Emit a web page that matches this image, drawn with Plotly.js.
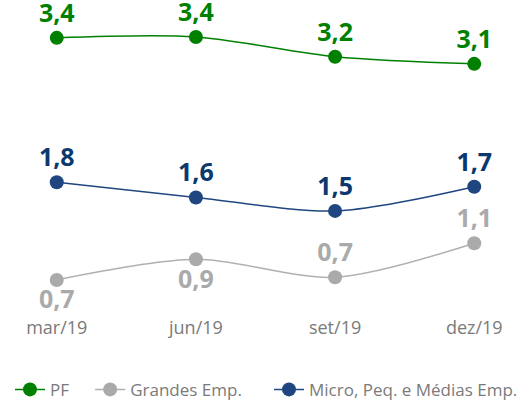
<!DOCTYPE html>
<html>
<head>
<meta charset="utf-8">
<script src="https://cdn.plot.ly/plotly-3.0.1.min.js"></script>
<style>html,body{margin:0;padding:0;background:#fff;}#chart{width:523px;height:404px;}</style>
</head>
<body>
<div id="chart"></div>
<script>
var categories = ["mar/19", "jun/19", "set/19", "dez/19"];
var pfValues = [3.40, 3.41, 3.19, 3.11];
var pfLabels = ["3,4", "3,4", "3,2", "3,1"];
var geValues = [0.70, 0.93, 0.73, 1.11];
var geLabels = ["0,7", "0,9", "0,7", "1,1"];
var mpmeValues = [1.79, 1.62, 1.47, 1.74];
var mpmeLabels = ["1,8", "1,6", "1,5", "1,7"];
var seriesNames = ["PF", "Grandes Emp.", "Micro, Peq. e Médias Emp."];

var green = "#008000", gray = "#aaaaaa", navy = "#1f4680", navyText = "#0b386e";
var font = "Open Sans, Noto Sans, sans-serif";

function trace(name, vals, labels, lineColor, markerColor, textColor, pos, legendId) {
  return {
    type: "scatter", mode: "lines+markers+text",
    x: categories, y: vals, name: name, legend: legendId,
    text: labels, textposition: pos,
    textfont: {family: font, size: 25, color: textColor, weight: 700},
    line: {color: lineColor, width: 1.5, shape: "spline", smoothing: 0.85},
    marker: {color: markerColor, size: 14},
    cliponaxis: false, hoverinfo: "none"
  };
}

var data = [
  trace(seriesNames[0], pfValues, pfLabels, green, green, green, "top center", "legend"),
  trace(seriesNames[1], geValues, geLabels, "#b0b0b0", gray, gray, ["bottom center","bottom center","top center","top center"], "legend2"),
  trace(seriesNames[2], mpmeValues, mpmeLabels, navy, navy, navyText, "top center", "legend3")
];

function legendAt(xp) {
  return {orientation: "h", x: xp, xanchor: "left", xref: "paper",
          y: 0.035, yanchor: "middle", yref: "container",
          font: {size: 17, color: "#7a7a7a"}, itemwidth: 30, bgcolor: "rgba(0,0,0,0)"};
}

var layout = {
  width: 523, height: 404,
  margin: {l: 15, r: 7, t: 2, b: 89},
  paper_bgcolor: "#fff", plot_bgcolor: "#fff",
  font: {family: font, color: "#777"},
  xaxis: {type: "category", range: [-0.3, 3.3], showgrid: false, zeroline: false, showline: false,
          ticks: "", tickfont: {size: 18, color: "#7a7a7a"}, fixedrange: true},
  yaxis: {range: [0.309, 3.8], visible: false, showgrid: false, zeroline: false, fixedrange: true},
  showlegend: true,
  legend: legendAt(-0.01),
  legend2: legendAt(0.150),
  legend3: legendAt(0.509)
};

Plotly.newPlot("chart", data, layout, {staticPlot: true, displayModeBar: false});
</script>
</body>
</html>
